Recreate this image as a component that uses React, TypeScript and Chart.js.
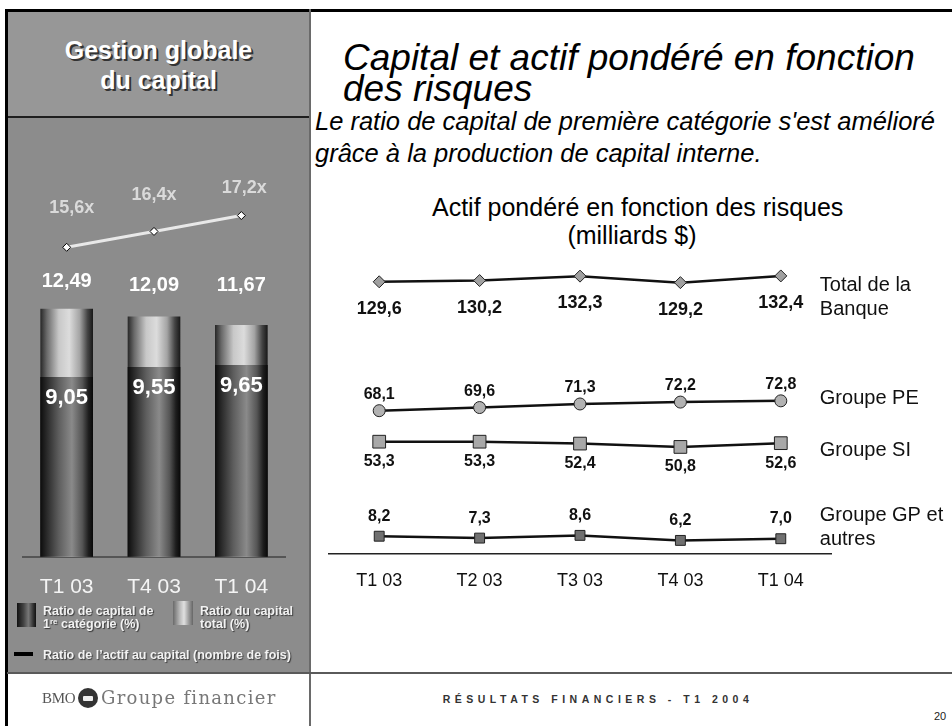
import React, { useEffect, useRef } from 'react';
import { Chart, registerables } from 'chart.js';

Chart.register(...registerables);

// ---------- Data ----------
const capitalQuarters = ['T1 03', 'T4 03', 'T1 04'];
const tier1Ratio = [9.05, 9.55, 9.65];
const totalCapitalRatio = [12.49, 12.09, 11.67];
const assetsToCapital = [15.6, 16.4, 17.2];

const rwaQuarters = ['T1 03', 'T2 03', 'T3 03', 'T4 03', 'T1 04'];
const totalBank = [129.6, 130.2, 132.3, 129.2, 132.4];
const groupPE = [68.1, 69.6, 71.3, 72.2, 72.8];
const groupSI = [53.3, 53.3, 52.4, 50.8, 52.6];
const groupGP = [8.2, 7.3, 8.6, 6.2, 7.0];
const rwaSeriesNames = [['Total de la', 'Banque'], ['Groupe PE'], ['Groupe SI'], ['Groupe GP et', 'autres']];

// ---------- Styles ----------
const FONT = "'Liberation Sans', Arial, Helvetica, sans-serif";
const BAR_W = 52;
const totalLabelGap = [28, 31, 40];
const multipleGap = [39, 36, 28];
const multipleDx = [5, 0, 3];

const fmt = (v: number, d: number) => v.toFixed(d).replace('.', ',');

const darkStops: [number, string][] = [
  [0, '#0e0e0e'], [0.12, '#2a2a2a'], [0.35, '#5e5e5e'], [0.6, '#8a8a8a'], [0.8, '#555555'], [0.92, '#1e1e1e'], [1, '#0a0a0a'],
];
const lightStops: [number, string][] = [
  [0, '#2a2a2a'], [0.12, '#6a6a6a'], [0.35, '#c8c8c8'], [0.55, '#dcdcdc'], [0.75, '#a4a4a4'], [0.9, '#444444'], [1, '#1a1a1a'],
];

function barGradient(ctx: any, stops: [number, string][]) {
  const chart = ctx.chart;
  const xs = chart.scales && chart.scales.x;
  if (!xs || ctx.type !== 'data' || !chart.chartArea) return stops[3][1];
  const cx = xs.getPixelForValue(ctx.dataIndex);
  const g = chart.ctx.createLinearGradient(cx - BAR_W / 2, 0, cx + BAR_W / 2, 0);
  stops.forEach(([o, c]) => g.addColorStop(o, c));
  return g;
}

const leftLabels = {
  id: 'leftLabels',
  afterDatasetsDraw(chart: any) {
    const c = chart.ctx;
    c.save();
    c.textAlign = 'center';
    c.textBaseline = 'middle';
    const lineMeta = chart.getDatasetMeta(0);
    const tierMeta = chart.getDatasetMeta(1);
    const totalMeta = chart.getDatasetMeta(2);
    c.fillStyle = '#ffffff';
    c.font = `bold 20px ${FONT}`;
    totalMeta.data.forEach((el: any, i: number) =>
      c.fillText(fmt(totalCapitalRatio[i], 2), el.x, el.y - totalLabelGap[i]));
    c.font = `bold 22px ${FONT}`;
    tierMeta.data.forEach((el: any, i: number) =>
      c.fillText(fmt(tier1Ratio[i], 2), el.x, el.y + 21));
    c.fillStyle = '#dadada';
    c.font = `bold 18px ${FONT}`;
    lineMeta.data.forEach((el: any, i: number) =>
      c.fillText(fmt(assetsToCapital[i], 1) + 'x', el.x + multipleDx[i], el.y - multipleGap[i]));
    c.restore();
  },
};

const rightLabelCfg = [
  { dy: 27, size: 18, nameDy: [10, 34] },
  { dy: -16, size: 16, nameDy: [-2] },
  { dy: 20, size: 16, nameDy: [7] },
  { dy: -20, size: 16, nameDy: [-23, 1] },
];

const rightLabels = {
  id: 'rightLabels',
  afterDatasetsDraw(chart: any) {
    const c = chart.ctx;
    c.save();
    c.textBaseline = 'middle';
    chart.data.datasets.forEach((ds: any, di: number) => {
      const meta = chart.getDatasetMeta(di);
      const cfg = rightLabelCfg[di];
      c.fillStyle = '#111111';
      c.textAlign = 'center';
      c.font = `bold ${cfg.size}px ${FONT}`;
      meta.data.forEach((el: any, i: number) => c.fillText(fmt(ds.data[i], 1), el.x, el.y + cfg.dy));
      const last = meta.data[meta.data.length - 1];
      c.textAlign = 'left';
      c.font = `20px ${FONT}`;
      rwaSeriesNames[di].forEach((line, li) => c.fillText(line, last.x + 39, last.y + cfg.nameDy[li]));
    });
    c.restore();
  },
};

function LeftChart() {
  const ref = useRef<HTMLCanvasElement>(null);
  useEffect(() => {
    const chart = new Chart(ref.current as HTMLCanvasElement, {
      type: 'bar',
      data: {
        labels: capitalQuarters,
        datasets: [
          {
            type: 'line',
            label: 'Ratio de l’actif au capital (nombre de fois)',
            data: assetsToCapital,
            borderColor: '#e8e8e8',
            borderWidth: 3,
            pointStyle: 'rectRot',
            pointRadius: 4,
            pointBackgroundColor: '#ffffff',
            pointBorderColor: '#000000',
            pointBorderWidth: 1,
            order: 0,
          } as any,
          {
            type: 'bar',
            label: 'Ratio de capital de 1re catégorie (%)',
            data: tier1Ratio,
            backgroundColor: (ctx: any) => barGradient(ctx, darkStops),
            barThickness: BAR_W,
            grouped: false,
            order: 1,
          } as any,
          {
            type: 'bar',
            label: 'Ratio du capital total (%)',
            data: totalCapitalRatio,
            backgroundColor: (ctx: any) => barGradient(ctx, lightStops),
            barThickness: BAR_W,
            grouped: false,
            order: 2,
          } as any,
        ],
      },
      options: {
        responsive: false,
        animation: false,
        layout: { padding: { left: 15, right: 23, top: 42, bottom: 0 } },
        plugins: { legend: { display: false }, tooltip: { enabled: false } },
        scales: {
          x: {
            offset: true,
            grid: { display: false, drawTicks: false },
            border: { display: true, color: '#555555', width: 2 },
            ticks: { color: '#f4f4f4', font: { family: FONT, size: 21 }, padding: 18 },
          },
          y: { display: false, min: 0, max: 20 },
        },
      } as any,
      plugins: [leftLabels],
    });
    return () => chart.destroy();
  }, []);
  return (
    <canvas ref={ref} width={300} height={500}
      style={{ position: 'absolute', left: 8, top: 118, display: 'block' }} />
  );
}

function RightChart() {
  const ref = useRef<HTMLCanvasElement>(null);
  useEffect(() => {
    const common = {
      borderColor: '#111111',
      borderWidth: 2.5,
      pointBorderColor: '#222222',
      pointBorderWidth: 1,
      tension: 0,
    };
    const chart = new Chart(ref.current as HTMLCanvasElement, {
      type: 'line',
      data: {
        labels: rwaQuarters,
        datasets: [
          { ...common, label: 'Total de la Banque', data: totalBank, pointStyle: 'rectRot', pointRadius: 6, pointBackgroundColor: '#a0a0a0' },
          { ...common, label: 'Groupe PE', data: groupPE, pointStyle: 'circle', pointRadius: 6, pointBackgroundColor: '#b2b2b2' },
          { ...common, label: 'Groupe SI', data: groupSI, pointStyle: 'rect', pointRadius: 9, pointBackgroundColor: '#a8a8a8' },
          { ...common, label: 'Groupe GP et autres', data: groupGP, pointStyle: 'rect', pointRadius: 7, pointBackgroundColor: '#707070' },
        ] as any,
      },
      options: {
        responsive: false,
        animation: false,
        layout: { padding: { left: 18, right: 121, top: 7, bottom: 0 } },
        plugins: { legend: { display: false }, tooltip: { enabled: false } },
        scales: {
          x: {
            offset: true,
            grid: { display: false, drawTicks: false },
            border: { display: true, color: '#222222', width: 1.5 },
            ticks: { color: '#111111', font: { family: FONT, size: 18 }, padding: 17 },
          },
          y: { display: false, min: 0, max: 140 },
        },
      } as any,
      plugins: [rightLabels],
    });
    return () => chart.destroy();
  }, []);
  return (
    <canvas ref={ref} width={641} height={359}
      style={{ position: 'absolute', left: 311, top: 250, display: 'block' }} />
  );
}

const abs = (s: React.CSSProperties): React.CSSProperties => ({ position: 'absolute', ...s });

export default function App() {
  const legendText: React.CSSProperties = {
    fontFamily: FONT, fontWeight: 'bold', fontSize: 12.5, lineHeight: '13px', color: '#f2f2f2',
    textShadow: '1px 1px 1px #3a3a3a', whiteSpace: 'nowrap',
  };
  return (
    <div style={abs({ left: 0, top: 0, width: 952, height: 726, background: '#ffffff', overflow: 'hidden', fontFamily: FONT })}>
      {/* left panel */}
      <div style={abs({ left: 7, top: 11, width: 303, height: 662, background: '#8c8c8c' })} />
      <div style={abs({ left: 7, top: 11, width: 303, height: 106, background: '#979797' })} />
      <div style={abs({ left: 7, top: 116, width: 303, height: 2, background: '#1e1e1e' })} />
      <div style={abs({
        left: 7, top: 35, width: 303, textAlign: 'center', fontWeight: 'bold', fontSize: 25, lineHeight: '30px',
        color: '#ffffff', textShadow: '2px 2px 0 #333333',
      })}>Gestion globale<br />du capital</div>

      <LeftChart />

      {/* left legend */}
      <div style={abs({ left: 17, top: 603, width: 19, height: 24, background: 'linear-gradient(to right, #111 0%, #444 35%, #777 60%, #333 85%, #111 100%)' })} />
      <div style={abs({ left: 43, top: 605, ...legendText })}>Ratio de capital de<br />1<sup style={{ fontSize: 8, verticalAlign: 'top', lineHeight: '8px' }}>re</sup> catégorie (%)</div>
      <div style={abs({ left: 173, top: 601, width: 20, height: 24, background: 'linear-gradient(to right, #6a6a6a 0%, #bbbbbb 35%, #e0e0e0 55%, #999 80%, #666 100%)' })} />
      <div style={abs({ left: 200, top: 605, ...legendText })}>Ratio du capital<br />total (%)</div>
      <div style={abs({ left: 14, top: 652, width: 19, height: 4, background: '#000000' })} />
      <div style={abs({ left: 43, top: 649, ...legendText })}>Ratio de l’actif au capital (nombre de fois)</div>

      {/* frame lines */}
      <div style={abs({ left: 5, top: 9, width: 947, height: 3, background: '#000000' })} />
      <div style={abs({ left: 5, top: 9, width: 3, height: 717, background: '#000000' })} />
      <div style={abs({ left: 309, top: 9, width: 2, height: 717, background: '#6a6a6a' })} />
      <div style={abs({ left: 7, top: 672, width: 945, height: 2, background: '#5a5a5a' })} />

      {/* right panel titles */}
      <div style={abs({ left: 343, top: 42, fontStyle: 'italic', fontSize: 37, lineHeight: '31px', color: '#000', whiteSpace: 'nowrap' })}>
        Capital et actif pondéré en fonction<br />des risques
      </div>
      <div style={abs({ left: 315, top: 105, fontStyle: 'italic', fontSize: 25.5, lineHeight: '32px', color: '#000', whiteSpace: 'nowrap' })}>
        Le ratio de capital de première catégorie s'est amélioré<br />grâce à la production de capital interne.
      </div>
      <div style={abs({ left: 432, top: 193, width: 400, textAlign: 'center', fontSize: 25, lineHeight: '28px', color: '#000', whiteSpace: 'nowrap' })}>
        Actif pondéré en fonction des risques<br />(milliards $)
      </div>

      <RightChart />

      {/* footer */}
      <div style={abs({ left: 42, top: 690, fontFamily: "'Liberation Serif', serif", fontSize: 15, letterSpacing: '-0.3px', color: '#555', filter: 'blur(0.5px)' })}>BMO</div>
      <div style={abs({ left: 78, top: 688, width: 20, height: 20, borderRadius: 10, background: '#333', filter: 'blur(0.4px)' })}>
        <div style={abs({ left: 5, top: 8, width: 10, height: 5, background: '#eee', borderRadius: 1 })} />
      </div>
      <div style={abs({ left: 101, top: 687, fontFamily: "'DejaVu Serif', serif", fontSize: 18, letterSpacing: '1.3px', color: '#777', filter: 'blur(0.6px)', whiteSpace: 'nowrap' })}>Groupe financier</div>
      <div style={abs({ left: 398, top: 693, width: 400, textAlign: 'center', fontWeight: 'bold', fontSize: 10.5, letterSpacing: '4.5px', color: '#333', whiteSpace: 'nowrap' })}>
        RÉSULTATS FINANCIERS - T1 2004
      </div>
      <div style={abs({ left: 934, top: 710, fontSize: 11, color: '#222' })}>20</div>
    </div>
  );
}
